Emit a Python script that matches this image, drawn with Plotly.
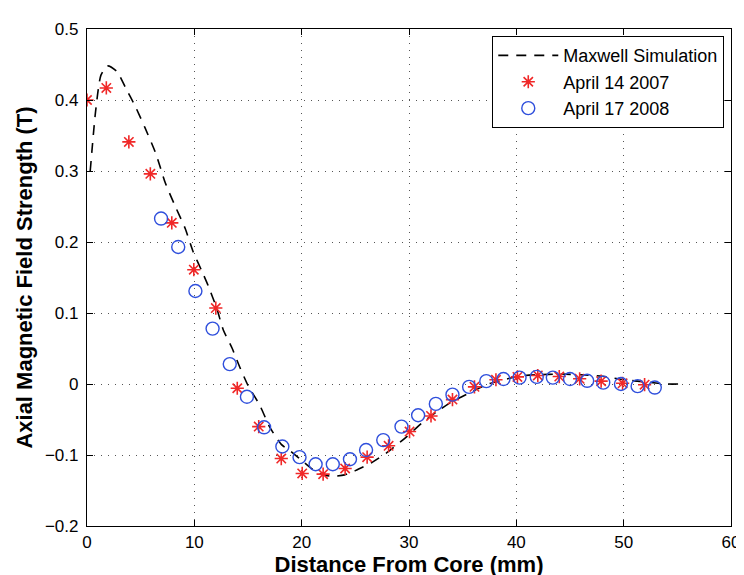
import plotly.graph_objects as go

# Maxwell simulation (dashed line)
sim_x = [0.3, 0.8, 1.3, 1.9, 2.8, 3.6, 4.5, 5.4, 6.4, 7.3, 8.2, 9.15, 9.9, 10.7, 11.3, 12.1,
         12.7, 13.5, 14.2, 15.0, 16.1, 17.0, 18.1, 19.0, 19.8, 21.0, 22.0, 22.9, 24.0, 25.0,
         26.6, 28.1, 29.8, 31.2, 32.6, 34.0, 35.85, 37.4, 38.6, 40.2, 42.0, 44.0, 46.0, 48.0,
         50.0, 52.0, 54.0, 55.5]
sim_y = [0.30, 0.384, 0.435, 0.448, 0.44, 0.417, 0.391, 0.361, 0.325, 0.283, 0.251, 0.219,
         0.186, 0.159, 0.138, 0.106, 0.076, 0.051, 0.025, -0.002, -0.030, -0.060, -0.085,
         -0.095, -0.105, -0.120, -0.128, -0.130, -0.128, -0.122, -0.110, -0.095, -0.074,
         -0.055, -0.039, -0.025, -0.011, 0.0, 0.005, 0.011, 0.013, 0.014, 0.013, 0.011,
         0.006, 0.003, 0.0, 0.0]

# April 14 2007 (red stars)
a07_x = [0, 1.8, 3.9, 5.9, 7.9, 9.95, 12.0, 14.0, 16.0, 18.1, 20.05, 22.0, 24.05, 26.1,
         28.1, 30.05, 32.05, 34.05, 36.1, 38.1, 40.1, 42.0, 44.0, 45.9, 47.9, 49.9, 51.95]
a07_y = [0.400, 0.417, 0.341, 0.296, 0.227, 0.161, 0.107, -0.006, -0.060, -0.105, -0.126,
         -0.127, -0.119, -0.103, -0.087, -0.067, -0.045, -0.022, -0.004, 0.006, 0.010,
         0.012, 0.0105, 0.0073, 0.004, 0.001, -0.001]

# April 17 2008 (blue circles)
a08_x = [6.9, 8.5, 10.1, 11.7, 13.3, 14.9, 16.5, 18.2, 19.8, 21.3, 22.9, 24.5, 26.0, 27.6,
         29.3, 30.85, 32.5, 34.05, 35.6, 37.2, 38.8, 40.3, 41.9, 43.4, 45.0, 46.6, 48.1,
         49.75, 51.3, 52.9]
a08_y = [0.233, 0.193, 0.131, 0.078, 0.028, -0.018, -0.061, -0.088, -0.103, -0.113, -0.113,
         -0.106, -0.093, -0.079, -0.060, -0.044, -0.028, -0.015, -0.004, 0.004, 0.007, 0.009,
         0.010, 0.009, 0.007, 0.0045, 0.002, 0.0, -0.003, -0.005]

x_ticks = [0, 10, 20, 30, 40, 50, 60]
y_ticks = [-0.2, -0.1, 0, 0.1, 0.2, 0.3, 0.4, 0.5]
y_tick_text = ["\u22120.2", "\u22120.1", "0", "0.1", "0.2", "0.3", "0.4", "0.5"]

FONT = "Liberation Sans, Arial, Helvetica"

fig = go.Figure()
fig.add_trace(go.Scatter(x=sim_x, y=sim_y, mode="lines", name="Maxwell Simulation",
                         line=dict(color="black", width=1.6, dash="10px,8px", shape="spline",
                                   smoothing=0.6)))
fig.add_trace(go.Scatter(x=a07_x, y=a07_y, mode="markers", name="April 14 2007",
                         marker=dict(symbol="asterisk-open", size=11, color="#f02828",
                                     line=dict(color="#f02828", width=1.6))))
fig.add_trace(go.Scatter(x=a08_x, y=a08_y, mode="markers", name="April 17 2008",
                         marker=dict(symbol="circle-open", size=13, color="#2f4fdc",
                                     line=dict(color="#2f4fdc", width=1.4))))

axis_common = dict(showline=True, linecolor="black", linewidth=1.3, mirror="ticks",
                   ticks="inside", ticklen=6, tickcolor="black", showgrid=True,
                   gridcolor="#555555", griddash="1px,6px", gridwidth=1, zeroline=False,
                   tickfont=dict(family=FONT, size=17, color="black"))

fig.update_xaxes(range=[0, 60], tickvals=x_ticks, **axis_common,
                 title=dict(text="<b>Distance From Core (mm)</b>", standoff=3,
                            font=dict(family=FONT, size=22, color="black")))
fig.update_yaxes(range=[-0.2, 0.5], tickvals=y_ticks, ticktext=y_tick_text, **axis_common,
                 ticklabelstandoff=4,
                 title=dict(text="<b>Axial Magnetic Field Strength (T)</b>", standoff=6,
                            font=dict(family=FONT, size=22, color="black")))

fig.update_layout(
    width=744, height=575,
    margin=dict(l=79, r=13, t=13, b=57),
    paper_bgcolor="white", plot_bgcolor="white",
    showlegend=True,
    legend=dict(x=0.629, y=0.986, xanchor="left", yanchor="top",
                bgcolor="white", bordercolor="black", borderwidth=1.2,
                font=dict(family=FONT, size=18, color="black"),
                tracegroupgap=0, itemwidth=60),
)

fig.write_html("out.html")
